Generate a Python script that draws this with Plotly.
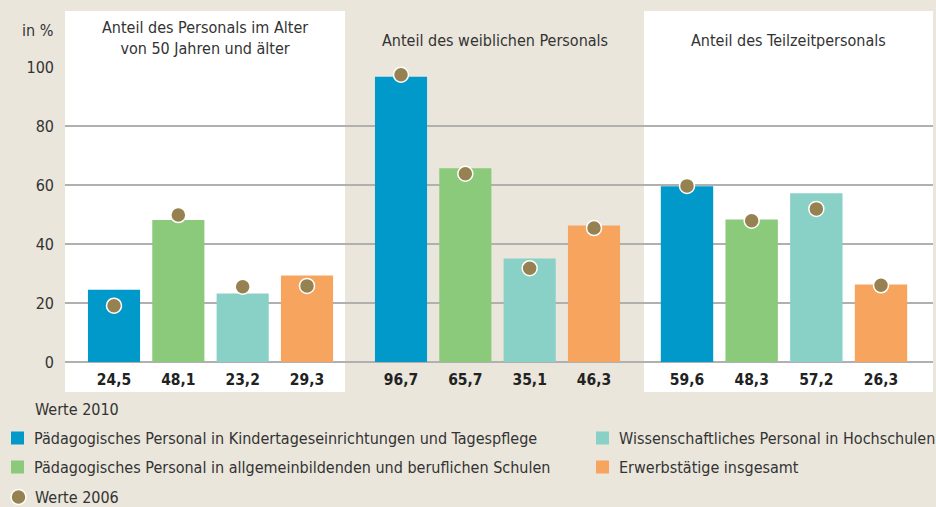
import plotly.graph_objects as go
from plotly.subplots import make_subplots

# ---------------- data ----------------
group_titles = [
    "Anteil des Personals im Alter<br>von 50 Jahren und älter",
    "Anteil des weiblichen Personals",
    "Anteil des Teilzeitpersonals",
]
series_names = [
    "Pädagogisches Personal in Kindertageseinrichtungen und Tagespflege",
    "Pädagogisches Personal in allgemeinbildenden und beruflichen Schulen",
    "Wissenschaftliches Personal in Hochschulen",
    "Erwerbstätige insgesamt",
]
categories = ["Kita", "Schulen", "Hochschulen", "Insgesamt"]
values_2010_alter = [24.5, 48.1, 23.2, 29.3]
values_2010_weiblich = [96.7, 65.7, 35.1, 46.3]
values_2010_teilzeit = [59.6, 48.3, 57.2, 26.3]
values_2006_alter = [19.1, 49.8, 25.5, 25.8]
values_2006_weiblich = [97.4, 63.8, 31.8, 45.4]
values_2006_teilzeit = [59.7, 47.9, 51.9, 26.0]
y_ticks = [0, 20, 40, 60, 80, 100]
legend_2010 = "Werte 2010"
legend_2006 = "Werte 2006"
y_unit = "in %"

values_2010 = [values_2010_alter, values_2010_weiblich, values_2010_teilzeit]
values_2006 = [values_2006_alter, values_2006_weiblich, values_2006_teilzeit]

# ---------------- style ----------------
colors = ["#0099c9", "#8bc97b", "#89d0c7", "#f7a45e"]
dot_color = "#968150"
bg = "#eae6dc"
grid = "#b0b0b0"
txt = "#333333"
FONT = "DejaVu Sans Condensed, Liberation Sans Narrow, Noto Sans, sans-serif"
FS = 16

W, H = 936, 507
L, R, T, B = 65, 3, 67, 145
PW, PH = W - L - R, H - T - B


def px2x(px):
    return (px - L) / PW


def py2y(py):
    return (H - B - py) / PH


# panel pixel extents and first/last bar centres
panels = [(65, 345, 114, 307), (345, 644, 401, 594), (644, 933, 687, 881)]

fig = make_subplots(rows=1, cols=3, shared_yaxes=True, horizontal_spacing=0)

for g in range(3):
    col = g + 1
    fig.add_trace(go.Bar(
        x=categories, y=values_2010[g], marker=dict(color=colors, line=dict(width=0)),
        width=0.81, showlegend=False, hoverinfo="y"), row=1, col=col)
    fig.add_trace(go.Scatter(
        x=categories, y=values_2006[g], mode="markers", cliponaxis=False,
        marker=dict(size=15, color=dot_color, line=dict(color="white", width=1.5)),
        showlegend=False, hoverinfo="y"), row=1, col=col)

    x0, x1, c0, c3 = panels[g]
    step = (c3 - c0) / 3
    rng = [-(c0 - x0) / step, 3 + (x1 - c3) / step]
    xa = dict(
        domain=[px2x(x0), px2x(x1)], range=rng, showgrid=False, zeroline=False,
        showline=False, ticks="",
        tickmode="array", tickvals=categories,
        ticktext=["<b>" + f"{v:.1f}".replace(".", ",") + "</b>" for v in values_2010[g]],
        tickfont=dict(size=15.5, color="#222222", family=FONT),
        ticklabelstandoff=6, fixedrange=True,
    )
    fig.update_xaxes(xa, row=1, col=col)

    # panel background
    if g != 1:
        fig.add_shape(type="rect", xref="paper", yref="paper",
                      x0=px2x(x0), x1=px2x(x1), y0=py2y(392), y1=py2y(11),
                      fillcolor="white", line=dict(width=0), layer="below")
    # panel title
    fig.add_annotation(text=group_titles[g], xref="paper", yref="paper",
                       x=px2x((x0 + x1) / 2), y=py2y(38 if g == 0 else 40),
                       showarrow=False, xanchor="center", yanchor="middle",
                       font=dict(size=FS, color=txt, family=FONT))

fig.update_yaxes(range=[0, 100], tickvals=y_ticks, showgrid=True, gridcolor=grid,
                 gridwidth=1.5, zeroline=True, zerolinecolor=grid, zerolinewidth=1.5,
                 showline=False, ticks="", fixedrange=True,
                 tickfont=dict(size=FS, color=txt, family=FONT))
fig.update_yaxes(showticklabels=True, ticklabelstandoff=10, row=1, col=1)

fig.add_annotation(text=y_unit, xref="paper", yref="paper", x=px2x(55), y=py2y(31),
                   showarrow=False, xanchor="right", yanchor="middle",
                   font=dict(size=FS, color=txt, family=FONT))

# ---------------- legend (drawn) ----------------
def leg_text(s, px, py):
    fig.add_annotation(text=s, xref="paper", yref="paper", x=px2x(px), y=py2y(py),
                       showarrow=False, xanchor="left", yanchor="middle",
                       font=dict(size=FS, color=txt, family=FONT))


def leg_square(color, px, py):
    fig.add_shape(type="rect", xref="paper", yref="paper",
                  x0=px2x(px), x1=px2x(px + 13), y0=py2y(py + 6.5), y1=py2y(py - 6.5),
                  fillcolor=color, line=dict(width=0))


leg_text(legend_2010, 33, 409)
leg_pos = [(11, 438), (11, 467), (596, 438), (596, 467)]
for (px, py), name, c in zip(leg_pos, series_names, colors):
    leg_square(c, px, py)
    leg_text(name, px + 21, py)

fig.add_shape(type="circle", xref="paper", yref="paper",
              x0=px2x(11), x1=px2x(26), y0=py2y(504.5), y1=py2y(489.5),
              fillcolor=dot_color, line=dict(color="white", width=1.5))
leg_text(legend_2006, 33, 497)

fig.update_layout(
    width=W, height=H, margin=dict(l=L, r=R, t=T, b=B, pad=0),
    paper_bgcolor=bg, plot_bgcolor="rgba(0,0,0,0)",
    bargap=0.2, showlegend=False,
    font=dict(family=FONT, color=txt),
)

fig.write_html("out.html", config={"displayModeBar": False},
               post_script="document.body.style.margin='0';document.body.style.background='" + bg + "';")
